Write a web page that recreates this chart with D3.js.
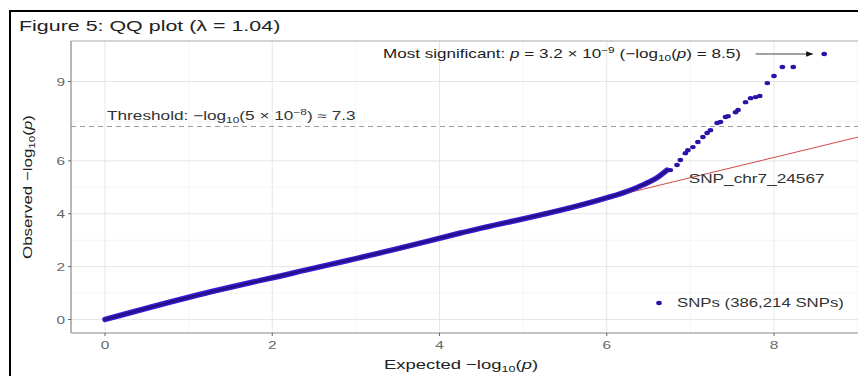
<!DOCTYPE html>
<html>
<head>
<meta charset="utf-8">
<script src="https://cdn.jsdelivr.net/npm/d3@7"></script>
<style>
  body { margin: 0; background: #fff; }
  svg { display: block; font-family: 'Liberation Sans', Arial, sans-serif; }
</style>
</head>
<body>
<div id="chart"></div>
<script>
// bulk of the SNPs
const bulkExpected = [0, 1.05, 2.25, 3.44, 4.25, 5.84, 6.24, 6.44, 6.6, 6.72];
const bulkObserved = [0, 0.88, 1.76, 2.63, 3.27, 4.46, 4.84, 5.1, 5.36, 5.65];

// tail points (individually visible)
const tailExpected = [6.76, 6.84, 6.88, 6.94, 6.97, 7.03, 7.09, 7.15, 7.20, 7.24, 7.32, 7.36,
  7.42, 7.45, 7.54, 7.57, 7.66, 7.72, 7.78, 7.83, 7.92, 8.00, 8.10, 8.23, 8.60];
const tailObserved = [5.65, 5.84, 6.03, 6.29, 6.40, 6.52, 6.71, 6.90, 7.05, 7.16, 7.43, 7.47,
  7.66, 7.69, 7.84, 7.92, 8.22, 8.37, 8.41, 8.45, 8.94, 9.21, 9.55, 9.55, 10.04];

// reference line
const refExpected = [0, 9.4];
const refObserved = [0, 7.2];

const xTicks = [0, 2, 4, 6, 8];
const xMinor = [1, 3, 5, 7, 9];
const yTicks = [0, 2, 4, 6, 9];
const yMinor = [1, 3, 5, 7.5];
const threshold = 7.3;

const W = 858, H = 376;
const PANEL = { left: 71, top: 41, right: 880, bottom: 333 };
const STRETCH = 1.4; // text in the reference is drawn wide
const DOT = '#2a14a8';

const svg = d3.select('#chart').append('svg')
  .attr('width', W).attr('height', H);
const defs = svg.append('defs');

// outer frame
svg.append('rect')
  .attr('x', 10).attr('y', 11)
  .attr('width', W + 20).attr('height', H + 20)
  .attr('fill', '#fff').attr('stroke', '#000').attr('stroke-width', 2);

const x = d3.scaleLinear().domain([0, 8]).range([105, 774]);
const y = d3.scaleLinear().domain([0, 9]).range([319.5, 81.5]);

// horizontally stretched text helper
function wideText(parent, px, py, size, fill, anchor) {
  return parent.append('g')
    .attr('transform', 'translate(' + px + ',' + py + ') scale(' + STRETCH + ',1)')
    .append('text')
    .attr('font-size', size).attr('fill', fill)
    .attr('text-anchor', anchor || 'start');
}

wideText(svg, 19, 31, 15.3, '#222').text('Figure 5: QQ plot (λ = 1.04)');

defs.append('clipPath').attr('id', 'clip')
  .append('rect')
  .attr('x', PANEL.left).attr('y', PANEL.top)
  .attr('width', PANEL.right - PANEL.left).attr('height', PANEL.bottom - PANEL.top);

const g = svg.append('g');

// grid
g.selectAll('line.vminor').data(xMinor).join('line')
  .attr('x1', d => x(d)).attr('x2', d => x(d))
  .attr('y1', PANEL.top).attr('y2', PANEL.bottom)
  .attr('stroke', '#f3f3f3').attr('stroke-width', 0.8);
g.selectAll('line.hminor').data(yMinor).join('line')
  .attr('y1', d => y(d)).attr('y2', d => y(d))
  .attr('x1', PANEL.left).attr('x2', PANEL.right)
  .attr('stroke', '#f3f3f3').attr('stroke-width', 0.8);
g.selectAll('line.vmajor').data(xTicks).join('line')
  .attr('x1', d => x(d)).attr('x2', d => x(d))
  .attr('y1', PANEL.top).attr('y2', PANEL.bottom)
  .attr('stroke', '#e6e6e6').attr('stroke-width', 1);
g.selectAll('line.hmajor').data(yTicks).join('line')
  .attr('y1', d => y(d)).attr('y2', d => y(d))
  .attr('x1', PANEL.left).attr('x2', PANEL.right)
  .attr('stroke', '#e6e6e6').attr('stroke-width', 1);

// panel top border
g.append('line').attr('x1', PANEL.left).attr('x2', PANEL.right)
  .attr('y1', PANEL.top).attr('y2', PANEL.top)
  .attr('stroke', '#aaa').attr('stroke-width', 1.2);

// threshold
g.append('line')
  .attr('x1', PANEL.left).attr('x2', PANEL.right)
  .attr('y1', y(threshold)).attr('y2', y(threshold))
  .attr('stroke', '#9a9a9a').attr('stroke-width', 1)
  .attr('stroke-dasharray', '5,4');

const thr = wideText(g, x(0) + 2, y(threshold) - 6, 12.3, '#333');
thr.append('tspan').text('Threshold: −log');
thr.append('tspan').attr('font-size', 8.5).attr('dy', 3).text('10');
thr.append('tspan').attr('dy', -3).text('(5 × 10');
thr.append('tspan').attr('font-size', 8.5).attr('dy', -5).text('−8');
thr.append('tspan').attr('dy', 5).text(') ≈ 7.3');

const plot = g.append('g').attr('clip-path', 'url(#clip)');

// reference line
plot.append('line')
  .attr('x1', x(refExpected[0])).attr('y1', y(refObserved[0]))
  .attr('x2', x(refExpected[1])).attr('y2', y(refObserved[1]))
  .attr('stroke', '#d24a4a').attr('stroke-width', 1);

// dense band
const band = d3.line()
  .x((d, i) => x(bulkExpected[i]))
  .y((d, i) => y(bulkObserved[i]))
  .curve(d3.curveMonotoneX);
plot.append('path')
  .attr('d', band(bulkExpected))
  .attr('fill', 'none')
  .attr('stroke', '#3a1ad0').attr('stroke-width', 5.5)
  .attr('stroke-linecap', 'round');
plot.append('path')
  .attr('d', band(bulkExpected))
  .attr('fill', 'none')
  .attr('stroke', '#23108a').attr('stroke-width', 2.5)
  .attr('stroke-linecap', 'round');

plot.selectAll('ellipse.tail').data(tailExpected).join('ellipse')
  .attr('class', 'tail')
  .attr('cx', (d, i) => x(tailExpected[i]))
  .attr('cy', (d, i) => y(tailObserved[i]))
  .attr('rx', 2.8).attr('ry', 2.2)
  .attr('fill', DOT);

// SNP label
wideText(g, x(6.98), y(5.35) + 5, 12.3, '#333').text('SNP_chr7_24567');

// most significant annotation
const topY = y(tailObserved[tailObserved.length - 1]);
const ms = wideText(g, 383, topY + 4, 12.2, '#222');
ms.append('tspan').text('Most significant: ');
ms.append('tspan').attr('font-style', 'italic').text('p');
ms.append('tspan').text(' = 3.2 × 10');
ms.append('tspan').attr('font-size', 8.5).attr('dy', -5).text('−9');
ms.append('tspan').attr('dy', 5).text('  (−log');
ms.append('tspan').attr('font-size', 8.5).attr('dy', 3).text('10');
ms.append('tspan').attr('dy', -3).text('(');
ms.append('tspan').attr('font-style', 'italic').text('p');
ms.append('tspan').text(') = 8.5)');

defs.append('marker')
  .attr('id', 'arrow').attr('viewBox', '0 0 10 10')
  .attr('refX', 9).attr('refY', 5)
  .attr('markerWidth', 9).attr('markerHeight', 7)
  .attr('markerUnits', 'userSpaceOnUse')
  .attr('orient', 'auto')
  .append('path').attr('d', 'M0,1 L10,5 L0,9 Z').attr('fill', '#111');
g.append('line')
  .attr('x1', x(7.78)).attr('x2', x(8.46))
  .attr('y1', topY).attr('y2', topY)
  .attr('stroke', '#444').attr('stroke-width', 1)
  .attr('marker-end', 'url(#arrow)');

// axes
g.append('line').attr('x1', PANEL.left).attr('x2', PANEL.left)
  .attr('y1', PANEL.top).attr('y2', PANEL.bottom)
  .attr('stroke', '#888').attr('stroke-width', 1.2);
g.append('line').attr('x1', PANEL.left).attr('x2', PANEL.right)
  .attr('y1', PANEL.bottom).attr('y2', PANEL.bottom)
  .attr('stroke', '#888').attr('stroke-width', 1.2);

g.selectAll('line.xt').data(xTicks).join('line')
  .attr('x1', d => x(d)).attr('x2', d => x(d))
  .attr('y1', PANEL.bottom).attr('y2', PANEL.bottom + 3)
  .attr('stroke', '#666');
xTicks.forEach(d => {
  wideText(g, x(d), PANEL.bottom + 16, 11, '#666', 'middle').text(d);
});

g.selectAll('line.yt').data(yTicks).join('line')
  .attr('y1', d => y(d)).attr('y2', d => y(d))
  .attr('x1', PANEL.left - 3).attr('x2', PANEL.left)
  .attr('stroke', '#666');
yTicks.forEach(d => {
  wideText(g, PANEL.left - 6, y(d) + 4, 11, '#666', 'end').text(d);
});

// legend
g.append('ellipse').attr('cx', 659).attr('cy', 303).attr('rx', 2.8).attr('ry', 2.2).attr('fill', DOT);
wideText(g, 677, 307, 12, '#333').text('SNPs (386,214 SNPs)');

// axis titles
const xt = wideText(g, 461, 369, 13.2, '#222', 'middle');
xt.append('tspan').text('Expected −log');
xt.append('tspan').attr('font-size', 9).attr('dy', 3).text('10');
xt.append('tspan').attr('dy', -3).text('(');
xt.append('tspan').attr('font-style', 'italic').text('p');
xt.append('tspan').text(')');

const yt = g.append('text')
  .attr('transform', 'translate(32,187) rotate(-90) scale(1.3,1)')
  .attr('text-anchor', 'middle')
  .attr('font-size', 13).attr('fill', '#222');
yt.append('tspan').text('Observed −log');
yt.append('tspan').attr('font-size', 9).attr('dy', 3).text('10');
yt.append('tspan').attr('dy', -3).text('(');
yt.append('tspan').attr('font-style', 'italic').text('p');
yt.append('tspan').text(')');
</script>
</body>
</html>
